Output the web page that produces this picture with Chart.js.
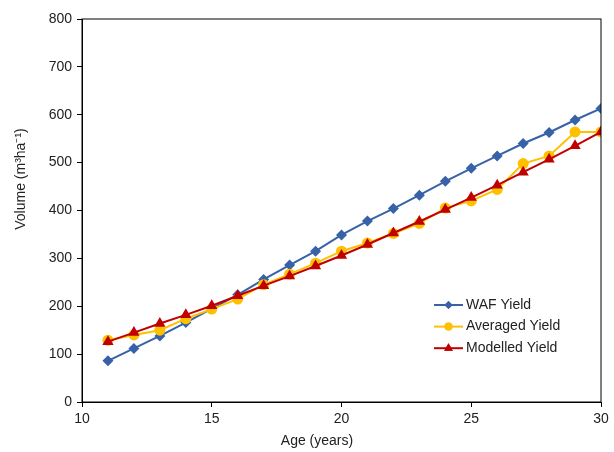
<!DOCTYPE html>
<html>
<head>
<meta charset="utf-8">
<script src="https://cdn.jsdelivr.net/npm/chart.js@4/dist/chart.umd.min.js"></script>
<style>
  html, body { margin: 0; padding: 0; background: #fff; }
  #wrap { width: 614px; height: 452px; position: relative; }
</style>
</head>
<body>
<div id="wrap"><canvas id="chart" width="614" height="452"></canvas></div>
<script>
'use strict';

// ===== データ =====
const AGES = [11, 12, 13, 14, 15, 16, 17, 18, 19, 20, 21, 22, 23, 24, 25, 26, 27, 28, 29, 30];
const WAF_YIELD = [86, 112, 138, 166, 195, 224, 256, 286, 315, 349, 378, 404, 432, 461, 488, 514, 540, 563, 589, 613];
const AVERAGED_YIELD = [129, 140, 150, 174, 194, 215, 245, 267, 290, 315, 332, 352, 373, 405, 420, 444, 498, 514, 564, 564];
const MODELLED_YIELD = [126, 145, 164, 182, 201, 222, 243, 263, 284, 306, 329, 353, 377, 402, 427, 453, 480, 507, 535, 564];

const X_TICKS = [10, 15, 20, 25, 30];
const Y_TICKS = [0, 100, 200, 300, 400, 500, 600, 700, 800];

const X_TITLE = 'Age (years)';
const Y_TITLE = 'Volume (m³ha⁻¹)';

const FONT = '"Liberation Sans", Arial, sans-serif';

const SERIES = [
    { label: 'WAF Yield',      values: WAF_YIELD,      color: '#3762A8', style: 'rectRot',  radius: 5.5, order: 2 },
    { label: 'Averaged Yield', values: AVERAGED_YIELD, color: '#FFC000', style: 'circle',   radius: 5.5, order: 1 },
    { label: 'Modelled Yield', values: MODELLED_YIELD, color: '#C00000', style: 'triangle', radius: 6.5, order: 0 },
];

const datasets = SERIES.map(s => ({
    label: s.label,
    data: AGES.map((a, i) => ({ x: a, y: s.values[i] })),
    borderColor: s.color,
    backgroundColor: s.color,
    borderWidth: 2,
    pointStyle: s.style,
    pointRadius: s.radius,
    pointBorderWidth: 0,
    pointBackgroundColor: s.color,
    tension: 0,
    order: s.order,
}));

// 枠線・軸タイトル・凡例
const framePlugin = {
    id: 'frame',
    afterDraw(chart) {
        const { ctx, chartArea: a } = chart;
        ctx.save();
        ctx.strokeStyle = '#000';
        ctx.lineWidth = 1;
        ctx.strokeRect(a.left, a.top, a.right - a.left, a.bottom - a.top);

        // 軸タイトル
        ctx.fillStyle = '#222';
        ctx.font = `14px ${FONT}`;
        ctx.textAlign = 'center';
        ctx.textBaseline = 'middle';
        ctx.fillText(X_TITLE, 317, 441);
        ctx.save();
        ctx.translate(21, 179);
        ctx.rotate(-Math.PI / 2);
        ctx.fillText(Y_TITLE, 0, 0);
        ctx.restore();

        // 凡例
        const lx = 434;
        let ly = 305;
        ctx.textAlign = 'left';
        SERIES.forEach(s => {
            ctx.strokeStyle = s.color;
            ctx.lineWidth = 2;
            ctx.beginPath();
            ctx.moveTo(lx, ly);
            ctx.lineTo(lx + 29, ly);
            ctx.stroke();
            ctx.fillStyle = s.color;
            Chart.helpers.drawPoint(ctx, { pointStyle: s.style, radius: s.radius - 1.5, borderWidth: 0 }, lx + 14.5, ly);
            ctx.fill();
            ctx.fillStyle = '#222';
            ctx.fillText(s.label, lx + 32, ly);
            ly += 21.6;
        });
        ctx.restore();
    },
};

new Chart(document.getElementById('chart'), {
    type: 'line',
    data: { datasets },
    options: {
        responsive: false,
        animation: false,
        layout: { padding: { left: 0, right: 13, top: 19, bottom: 0 } },
        plugins: {
            legend: { display: false },
            tooltip: { enabled: false },
        },
        scales: {
            x: {
                type: 'linear',
                min: 10,
                max: 30,
                afterBuildTicks: s => { s.ticks = X_TICKS.map(v => ({ value: v })); },
                afterFit: s => { s.height = 50; },
                ticks: { font: { size: 14, family: FONT }, color: '#222', padding: 4 },
                grid: { drawOnChartArea: false, drawTicks: true, tickLength: 5, color: '#000' },
                border: { color: '#000', width: 1 },
            },
            y: {
                min: 0,
                max: 800,
                afterBuildTicks: s => { s.ticks = Y_TICKS.map(v => ({ value: v })); },
                afterFit: s => { s.width = 82; },
                ticks: { font: { size: 14, family: FONT }, color: '#222', padding: 5 },
                grid: { drawOnChartArea: false, drawTicks: true, tickLength: 5, color: '#000' },
                border: { color: '#000', width: 1 },
            },
        },
    },
    plugins: [framePlugin],
});
</script>
</body>
</html>
